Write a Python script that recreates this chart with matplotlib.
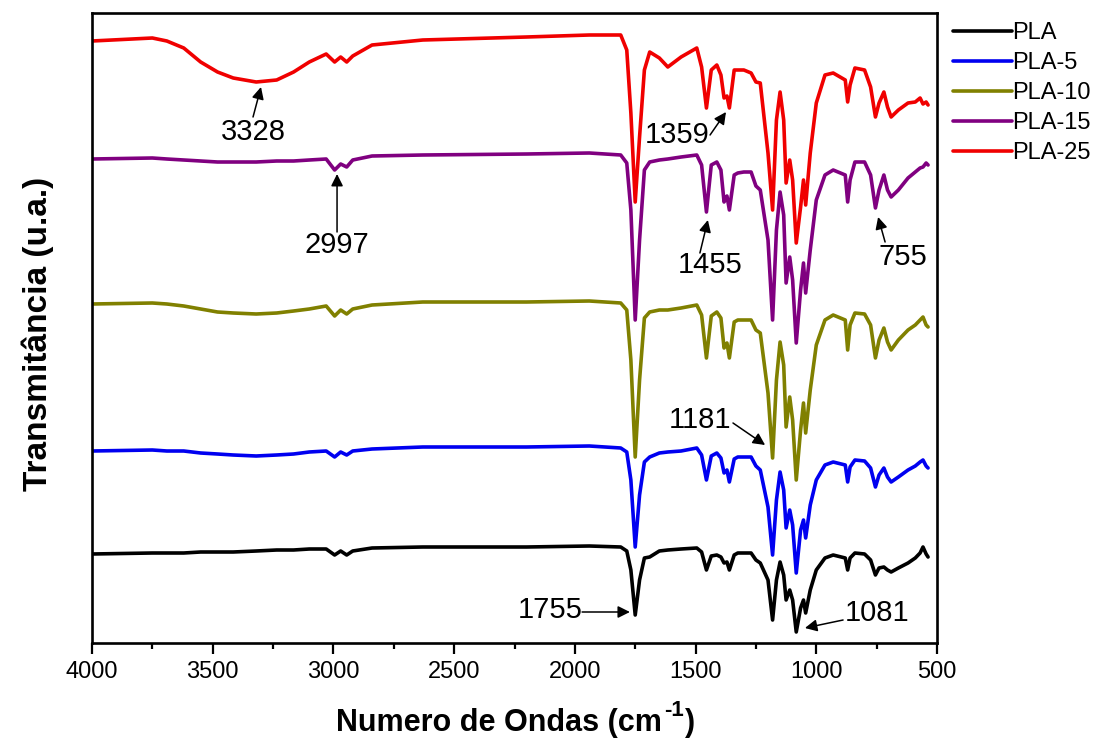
import matplotlib
matplotlib.use("Agg")
import matplotlib.pyplot as plt
from matplotlib.ticker import MultipleLocator

plt.rcParams['font.family'] = ['Liberation Sans', 'DejaVu Sans']

# wavenumbers (cm-1)
wavenumber = [4000, 3750, 3690, 3620, 3550, 3480, 3415, 3320, 3235, 3165, 3100, 3030,
              2995, 2970, 2945, 2920, 2840, 2630, 2200, 1940,
              1810, 1785, 1768, 1750, 1732, 1712, 1690, 1650, 1615, 1560, 1495, 1475,
              1455, 1435, 1412, 1395, 1382, 1370, 1360, 1340, 1325, 1300, 1270, 1250,
              1232, 1200, 1181, 1165, 1150, 1135, 1125, 1110, 1098, 1083, 1065, 1053,
              1044, 1025, 1000, 964, 930, 880, 870, 860, 840, 800, 775, 755,
              740, 720, 705, 690, 660, 620, 590, 570, 558, 545, 537]

# stacked transmittance (u.a.)
pla = [89, 90, 90, 90, 91, 91, 91, 92, 93, 93, 94, 94,
       88, 92, 88, 92, 95, 96, 96, 97,
       96, 92, 73, 28, 63, 85, 86, 92, 93, 94, 95, 91,
       73, 87, 88, 86, 80, 81, 73, 88, 90, 90, 90, 83,
       80, 63, 23, 63, 81, 68, 43, 53, 43, 11, 35, 43,
       30, 53, 73, 85, 88, 85, 73, 85, 90, 89, 83, 68,
       75, 76, 73, 71, 75, 80, 85, 90, 96, 89, 86]
pla5 = [192, 193, 192, 192, 190, 189, 188, 187, 188, 189, 191, 192,
        186, 191, 188, 192, 194, 196, 196, 197,
        195, 191, 163, 96, 148, 181, 186, 190, 191, 192, 195, 188,
        163, 187, 190, 185, 170, 173, 161, 184, 186, 186, 186, 177,
        173, 136, 88, 143, 171, 153, 115, 133, 118, 70, 113, 123,
        105, 138, 163, 178, 181, 178, 161, 176, 183, 182, 175, 156,
        168, 175, 166, 161, 166, 173, 177, 181, 183, 177, 175]
pla10 = [339, 340, 339, 337, 334, 331, 330, 329, 330, 332, 334, 337,
         327, 333, 329, 334, 338, 341, 341, 342,
         340, 333, 283, 186, 263, 325, 331, 333, 333, 335, 338, 328,
         285, 327, 331, 325, 295, 300, 285, 321, 323, 323, 323, 313,
         310, 250, 185, 263, 301, 278, 216, 246, 223, 163, 213, 240,
         210, 253, 298, 323, 328, 323, 293, 318, 330, 329, 318, 285,
         303, 315, 301, 293, 303, 313, 318, 323, 326, 318, 316]
pla15 = [484, 485, 484, 483, 482, 481, 481, 481, 482, 482, 483, 484,
         473, 479, 476, 483, 487, 488, 489, 490,
         488, 480, 433, 323, 403, 473, 481, 483, 484, 486, 488, 478,
         431, 478, 481, 473, 441, 447, 433, 468, 470, 471, 471, 457,
         453, 403, 323, 413, 451, 428, 360, 386, 363, 300, 353, 380,
         350, 393, 443, 468, 473, 468, 441, 463, 481, 481, 468, 435,
         453, 468, 453, 446, 453, 465, 471, 475, 476, 480, 478]
pla25 = [602, 605, 602, 595, 581, 571, 565, 561, 563, 571, 581, 589,
         581, 586, 581, 587, 598, 603, 606, 608,
         608, 593, 530, 441, 506, 573, 591, 585, 576, 586, 595, 576,
         535, 573, 578, 568, 545, 547, 535, 573, 573, 573, 570, 561,
         560, 490, 433, 523, 551, 523, 460, 483, 463, 400, 436, 463,
         438, 490, 540, 568, 570, 563, 541, 558, 575, 573, 556, 526,
         540, 551, 536, 526, 533, 540, 541, 545, 539, 541, 538]

series_names = ['PLA', 'PLA-5', 'PLA-10', 'PLA-15', 'PLA-25']
series_values = [pla, pla5, pla10, pla15, pla25]
series_colors = ['#000000', '#0000f0', '#808000', '#800080', '#f00000']

# annotations: label, text position (wn, u.a.), arrow tail, arrow tip
ann_labels = ['3328', '2997', '1359', '1455', '755', '1181', '1081', '1755']
ann_text = [(3333, 511), (2985, 398), (1577, 508), (1440, 378), (641, 386),
            (1482, 223), (749, 30), (2103, 33)]
ann_tail = [(3333, 526), (2985, 411), (1440, 508), (1482, 390), (715, 401),
            (1345, 220), (889, 23), (1970, 31)]
ann_tip = [(3300, 556), (2985, 469), (1374, 531), (1449, 423), (744, 426),
           (1212, 198), (1047, 15), (1772, 31)]

W, H = 1097, 753
fig = plt.figure(figsize=(W / 100, H / 100), dpi=100)
ax = fig.add_axes([92 / W, 1 - 643 / H, (937 - 92) / W, (643 - 13) / H])

for name, vals, col in zip(series_names, series_values, series_colors):
    ax.plot(wavenumber, vals, color=col, lw=2.6, label=name,
            solid_joinstyle='round', solid_capstyle='round')

for lab, t, a, p in zip(ann_labels, ann_text, ann_tail, ann_tip):
    ax.text(t[0], t[1], lab, fontsize=21, ha='center', va='center')
    ax.annotate('', xy=p, xytext=a,
                arrowprops=dict(arrowstyle='-|>', color='black', lw=1.1,
                                mutation_scale=18, shrinkA=0, shrinkB=0))

ax.set_xlim(4000, 500)
ax.set_ylim(0, 630)
ax.xaxis.set_major_locator(MultipleLocator(500))
ax.xaxis.set_minor_locator(MultipleLocator(250))
ax.set_yticks([])
ax.tick_params(axis='x', which='major', direction='out', length=8, width=1.6,
               labelsize=17, pad=5)
ax.tick_params(axis='x', which='minor', direction='out', length=4.5, width=1.6)
for sp in ax.spines.values():
    sp.set_linewidth(1.9)

ax.set_ylabel('Transmitância (u.a.)', fontsize=24, fontweight='bold')
ax.yaxis.set_label_coords((54 - 92) / 845, (643 - 334) / 630)

leg = ax.legend(loc='upper left', bbox_to_anchor=(953 / W, 1 - 22 / H),
                bbox_transform=fig.transFigure, frameon=False, fontsize=17,
                handlelength=2.5, handletextpad=0.0, labelspacing=0.34,
                borderaxespad=0, borderpad=0)

# x-axis title with an upright hyphen in the superscript
fig.canvas.draw()
r = fig.canvas.get_renderer()
base_y = 1 - 731 / H
t1 = fig.text(336 / W, base_y, 'Numero de Ondas (cm', fontsize=22,
              fontweight='bold', ha='left', va='baseline')
bb1 = t1.get_window_extent(r)
t2 = fig.text((bb1.x1 + 2) / W, 1 - 716 / H, '-1', fontsize=16,
              fontweight='bold', ha='left', va='baseline')
bb2 = t2.get_window_extent(r)
t3 = fig.text((bb2.x1 + 1) / W, base_y, ')', fontsize=22,
              fontweight='bold', ha='left', va='baseline')

fig.savefig('out.png', dpi=100)
